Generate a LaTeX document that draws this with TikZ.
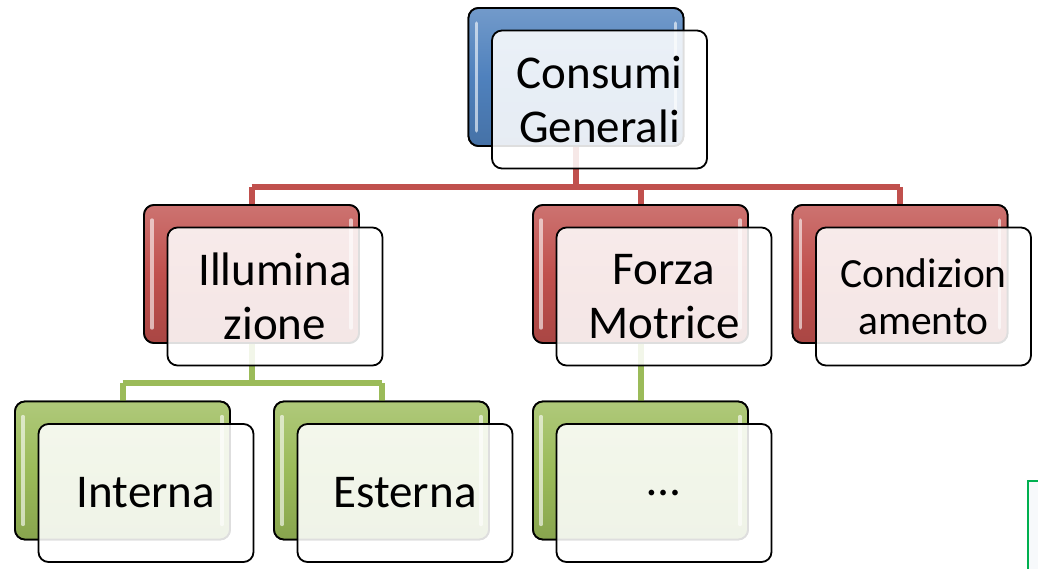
\documentclass[tikz,border=0pt]{standalone}
\usepackage{fontspec}
\setmainfont{Carlito}
\usetikzlibrary{calc}
\definecolor{cblue}{HTML}{4F81BD}
\definecolor{cred}{HTML}{C0504D}
\definecolor{cgreen}{HTML}{9BBB59}
\definecolor{cart}{HTML}{00B050}
\definecolor{cartfill}{HTML}{F7F9FB}
\tikzset{
 backbox/.style={draw=black, line width=1.8pt, rounded corners=10pt, minimum width=215pt, minimum height=138pt, inner sep=0pt, top color=#1!80!white, bottom color=#1!88!black, middle color=#1},
 frontbox/.style={draw=black, line width=1.8pt, rounded corners=10pt, minimum width=215pt, minimum height=138pt, fill=white, fill opacity=0.87, text opacity=1, align=center, font=\fontsize{47}{54}\selectfont, inner sep=0pt},
 smalltext/.style={font=\fontsize{41.5}{47}\selectfont},
 redline/.style={draw=cred, line width=6pt},
 greenline/.style={draw=cgreen, line width=6pt},
 gleam/.style={white, opacity=0.6, line width=3.5pt, line cap=round},
}
\newcommand\gleampair[1]{%
 \draw[gleam] ($(#1.north west)+(9,16)$) -- ($(#1.south west)+(9,-16)$);
 \draw[gleam] ($(#1.north east)+(-9,16)$) -- ($(#1.south east)+(-9,-16)$);}
\begin{document}
\begin{tikzpicture}[x=1pt,y=-1pt]
\useasboundingbox (0,0) rectangle (1038,569);
% back boxes
\node[backbox=cblue] (topB) at (576,77) {};
\node[backbox=cred] (illB) at (251.5,274) {};
\node[backbox=cred] (forB) at (640.5,274) {};
\node[backbox=cred] (conB) at (900,274) {};
\node[backbox=cgreen] (intB) at (122.5,470.5) {};
\node[backbox=cgreen] (estB) at (381.5,470.5) {};
\node[backbox=cgreen] (dotB) at (640.5,470.5) {};
\coordinate (rbus) at (0,187);
\coordinate (gbus) at (0,383);
% connectors
\draw[redline] (topB.south) -- (topB.south |- rbus);
\draw[redline] (illB.north |- rbus) -- (conB.north |- rbus);
\draw[redline] (illB.north |- rbus) -- (illB.north);
\draw[redline] (forB.north |- rbus) -- (forB.north);
\draw[redline] (conB.north |- rbus) -- (conB.north);
\draw[greenline] (illB.south) -- (illB.south |- gbus);
\draw[greenline] (intB.north |- gbus) -- (estB.north |- gbus);
\draw[greenline] (intB.north |- gbus) -- (intB.north);
\draw[greenline] (estB.north |- gbus) -- (estB.north);
\draw[greenline] (forB.south) -- (dotB.north);
% redraw back boxes over connectors
\node[backbox=cblue] at (topB) {};
\node[backbox=cred] at (illB) {};
\node[backbox=cred] at (forB) {};
\node[backbox=cred] at (conB) {};
\node[backbox=cgreen] at (intB) {};
\node[backbox=cgreen] at (estB) {};
\node[backbox=cgreen] at (dotB) {};
\gleampair{topB}\gleampair{illB}\gleampair{forB}\gleampair{conB}
\gleampair{intB}\gleampair{estB}\gleampair{dotB}
% front boxes
\node[frontbox] (top) at ($(topB)+(23.5,22.5)$) {Consumi\\Generali};
\node[frontbox] (ill) at ($(illB)+(23.5,22.5)$) {Illumina\\zione};
\node[frontbox] (for) at ($(forB)+(23.5,22.5)$) {Forza\\Motrice};
\node[frontbox, smalltext] (con) at ($(conB)+(23.5,22.5)$) {Condizion\\amento};
\node[frontbox] (int) at ($(intB)+(23.5,22.5)$) {Interna};
\node[frontbox] (est) at ($(estB)+(23.5,22.5)$) {Esterna};
\node[frontbox] (dot) at ($(dotB)+(23.5,22.5)$) {…};
% cut-off shape at bottom right
\fill[cartfill] (1028,481) rectangle (1038,569);
\draw[cart, line width=2.5pt] (1038,481) -- (1028,481) -- (1028,569);
\end{tikzpicture}
\end{document}
